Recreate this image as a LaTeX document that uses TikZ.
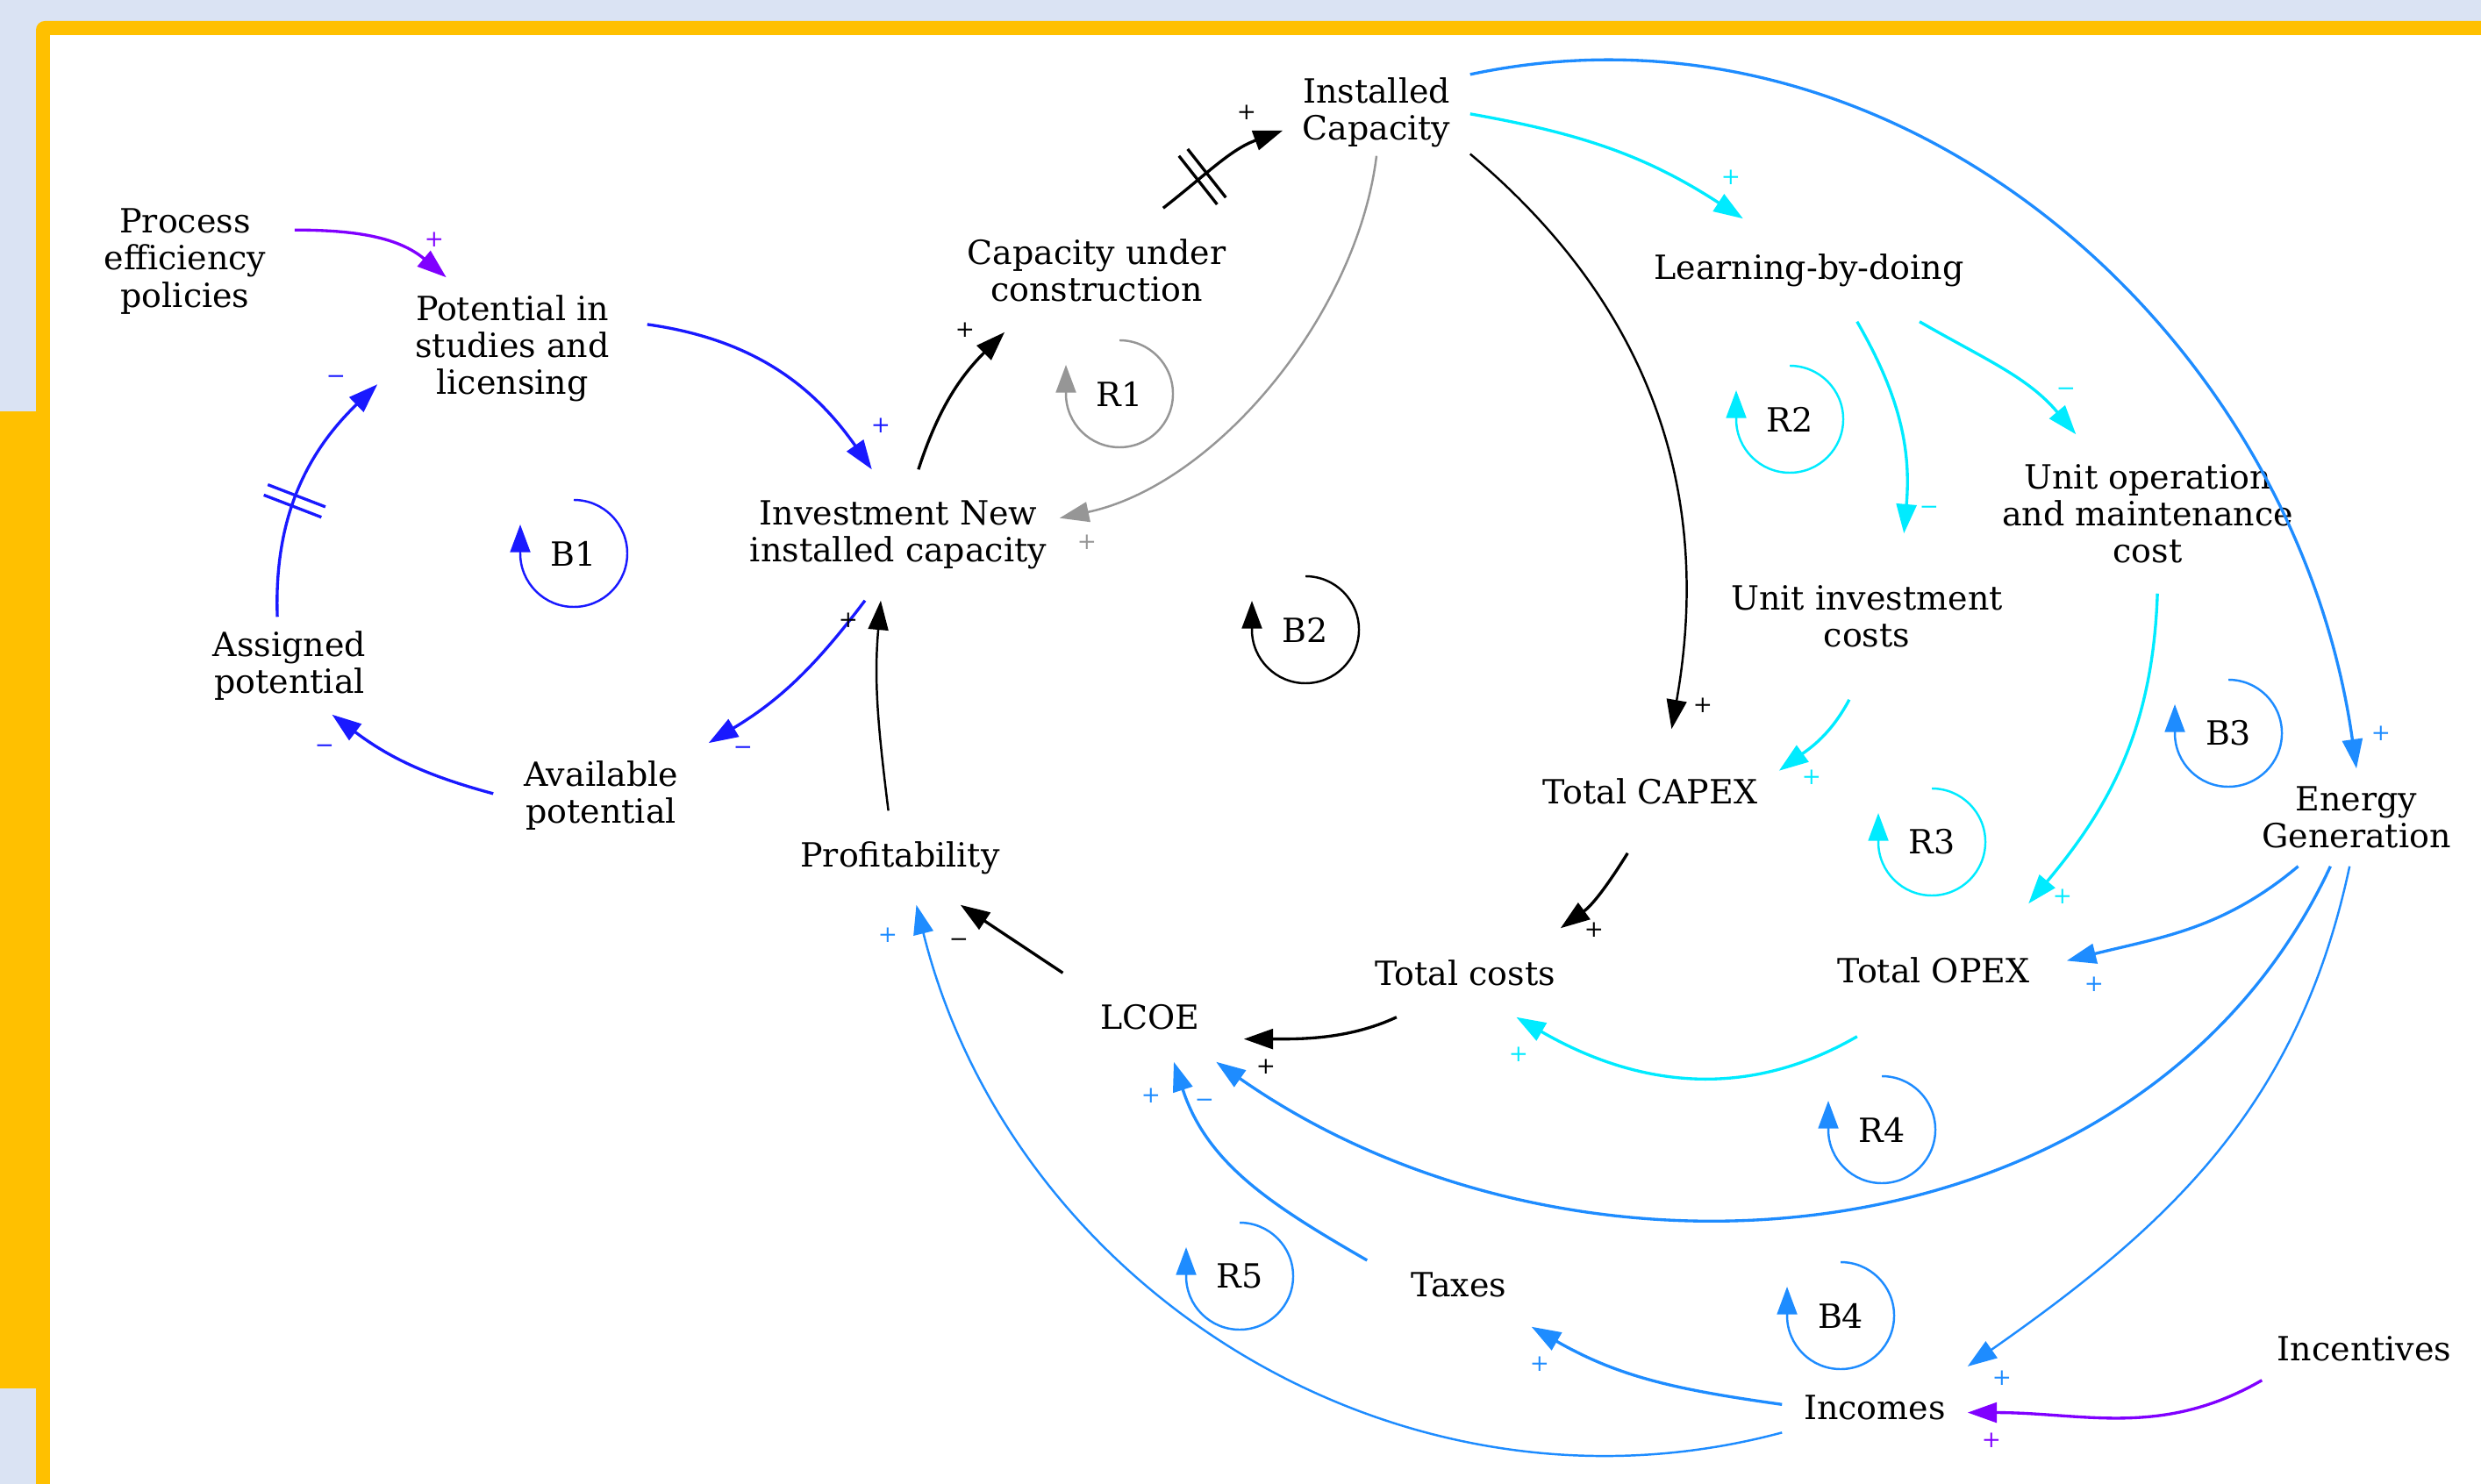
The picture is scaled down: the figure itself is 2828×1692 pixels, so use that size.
\documentclass[tikz,border=0pt]{standalone}
\usepackage{fontspec}
\newfontfamily\dvs{DejaVu Serif}
\usetikzlibrary{arrows.meta,decorations.markings}
\definecolor{cpurple}{RGB}{128,0,255}
\definecolor{cblue}{RGB}{25,25,255}
\definecolor{ccyan}{RGB}{0,235,255}
\definecolor{cdodger}{RGB}{30,140,255}
\definecolor{cgray}{RGB}{150,150,150}
\definecolor{bgblue}{RGB}{218,227,243}
\definecolor{cyellow}{RGB}{255,192,0}
\newcommand\varfont{\dvs\fontsize{10.8pt}{12pt}\selectfont}
\newcommand\sgnfont{\dvs\fontsize{7.5pt}{8pt}\selectfont}
\begin{document}
\begin{tikzpicture}[x=0.01cm,y=0.01cm,
  var/.style={align=center,font=\varfont,inner sep=0pt},
  lnk/.style={line width=0.95pt,-{Triangle[length=9.5pt,width=6.5pt]}},
  lnkthin/.style={lnk,line width=0.7pt},
  sgn/.style={font=\sgnfont,inner sep=0pt},
  loopmk/.style={line width=0.7pt,-{Triangle[length=9pt,width=6.5pt]}},
  delaymk/.style={postaction={decorate,decoration={markings,mark=at position #1 with {\draw[-,solid] (-1.8pt,-10pt)--(-1.8pt,10pt) (1.8pt,-10pt)--(1.8pt,10pt);}}}}
]
\useasboundingbox (0,0) rectangle (2828,-1692);
% frame
\fill[bgblue] (0,0) rectangle (2828,-1692);
\fill[cyellow] (0,-469) rectangle (57,-1583);
\fill[cyellow,rounded corners=0.1cm] (41,-24) rectangle (2900,-1800);
\fill[white] (57,-40) rectangle (2828,-1692);

% variables
\node[var,minimum width=2.12cm,minimum height=0.98cm] (inst) at (1569,-128) {Installed\\Capacity};
\node[var,minimum width=2.48cm,minimum height=1.6cm] (proc) at (211,-298) {Process\\efficiency\\policies};
\node[var,minimum width=3.06cm,minimum height=1.6cm] (pot) at (584,-397) {Potential in\\studies and\\licensing};
\node[var,minimum height=1.4cm] (cuc) at (1250,-308) {Capacity under\\construction};
\node[var,minimum height=1.16cm] (lbd) at (2062,-308) {Learning-by-doing};
\node[var,minimum width=3.66cm,minimum height=1.48cm] (inv) at (1024,-610) {Investment New\\installed capacity};
\node[var,minimum height=1.8cm] (uom) at (2448,-586) {Unit operation\\and maintenance\\cost};
\node[var,minimum height=1.88cm] (uic) at (2128,-703) {Unit investment\\costs};
\node[var,minimum height=1.1cm] (asg) at (330,-759) {Assigned\\potential};
\node[var,minimum width=2.44cm,minimum height=1.3cm] (avl) at (685,-907) {Available\\potential};
\node[var,minimum width=2.92cm,minimum height=1.4cm] (capex) at (1881,-902) {Total CAPEX};
\node[var,minimum height=1.1cm] (egen) at (2686,-932) {Energy\\Generation};
\node[var,minimum height=1.06cm] (prof) at (1026,-978) {Profitability};
\node[var,minimum width=2.2cm,minimum height=1.0cm] (tcost) at (1670,-1109) {Total costs};
\node[var,minimum width=3.02cm,minimum height=1.5cm] (opex) at (2204,-1106) {Total OPEX};
\node[var,minimum width=2.12cm,minimum height=1.0cm] (lcoe) at (1311,-1160) {LCOE};
\node[var,minimum width=2.08cm,minimum height=0.94cm] (taxes) at (1663,-1465) {Taxes};
\node[var,minimum width=2.32cm,minimum height=0.8cm] (incent) at (2695,-1538) {Incentives};
\node[var,minimum width=2.1cm,minimum height=1.0cm] (incomes) at (2137,-1605) {Incomes};

% connectors
\draw[lnk,cpurple] (proc.16) to[out=0,in=140] (pot.133);
\draw[lnk,cblue] (pot.10) to[out=-8,in=125] (inv.112);
\draw[lnk,cblue] (inv.243) to[out=-127,in=31] (avl.26);
\draw[lnk,cblue] (avl.179) to[out=165,in=-37] (asg.-49);
\draw[lnk,cblue,delaymk=0.45] (asg.104) to[out=92,in=-136] (pot.195);
\draw[lnk] (inv.73) to[out=72,in=-135] (cuc.214);
\draw[lnk,delaymk=0.35] (cuc.43) to[out=38,in=-160] (inst.191);
\draw[lnkthin,cgray] (inst.-90) to[out=-97,in=12,looseness=0.85] (inv.6);
\draw[lnkthin] (prof.104) to[out=97,in=-95] (inv.255);
\draw[lnkthin] (inst.-24) to[out=-40,in=80] (capex.71);
\draw[lnk] (capex.250) to[out=-122,in=36] (tcost.25);
\draw[lnk] (tcost.213) to[out=-155,in=0,looseness=0.9] (lcoe.-13);
\draw[lnk] (lcoe.153) -- (prof.-38);
\draw[lnk,ccyan] (inst.-1) to[out=-10,in=147] (lbd.142);
\draw[lnk,ccyan] (lbd.-47) to[out=-60,in=85] (uic.66);
\draw[lnk,ccyan] (lbd.-25) to[out=-30,in=130] (uom.132);
\draw[lnk,ccyan] (uic.258) to[out=-118,in=36] (capex.9);
\draw[lnk,ccyan] (uom.-83) to[out=-92,in=50] (opex.35);
\draw[lnk,ccyan] (opex.221) to[out=-150,in=-30] (tcost.-41);
\draw[lnk,cdodger] (inst.22) to[out=12,in=98] (egen.90);
\draw[lnk,cdodger] (egen.220) to[out=-140,in=14] (opex.4);
\draw[lnk,cdodger] (egen.242) to[out=-115,in=-35] (lcoe.-34);
\draw[lnkthin,cdodger] (egen.262) to[out=-102,in=35] (incomes.24);
\draw[lnk,cpurple] (incent.197) to[out=-150,in=0] (incomes.-3);
\draw[lnk,cdodger] (incomes.178) to[out=172,in=-30] (taxes.-30);
\draw[lnk,cdodger] (taxes.165) to[out=150,in=-72] (lcoe.-62);
\draw[lnkthin,cdodger] (incomes.195) to[out=-165,in=-76] (prof.-71);

% polarity signs
\node[sgn,text=cpurple] (s1) at (495,-273) {+};
\node[sgn,text=cblue] (s2) at (1004,-485) {+};
\node[sgn,text=cblue] (s3) at (847,-856) {−};
\node[sgn,text=cblue] (s4) at (370,-854) {−};
\node[sgn,text=cblue] (s5) at (383,-433) {−};
\node[sgn] (s6) at (1100,-376) {+};
\node[sgn] (s7) at (1421,-128) {+};
\node[sgn,text=cgray] (s8) at (1239,-618) {+};
\node[sgn] (s9) at (967,-707) {+};
\node[sgn] (s10) at (1941,-804) {+};
\node[sgn] (s11) at (1817,-1060) {+};
\node[sgn] (s12) at (1443,-1216) {+};
\node[sgn] (s13) at (1093,-1075) {−};
\node[sgn,text=ccyan] (s14) at (1973,-202) {+};
\node[sgn,text=ccyan] (s15) at (2199,-582) {−};
\node[sgn,text=ccyan] (s16) at (2355,-447) {−};
\node[sgn,text=ccyan] (s17) at (2065,-886) {+};
\node[sgn,text=ccyan] (s18) at (2351,-1022) {+};
\node[sgn,text=ccyan] (s19) at (1731,-1202) {+};
\node[sgn,text=cdodger] (s20) at (2714,-836) {+};
\node[sgn,text=cdodger] (s21) at (2387,-1122) {+};
\node[sgn,text=cdodger] (s22) at (1373,-1258) {−};
\node[sgn,text=cdodger] (s23) at (2282,-1571) {+};
\node[sgn,text=cpurple] (s24) at (2270,-1642) {+};
\node[sgn,text=cdodger] (s25) at (1755,-1555) {+};
\node[sgn,text=cdodger] (s26) at (1312,-1249) {+};
\node[sgn,text=cdodger] (s27) at (1012,-1066) {+};

% loop markers
\node[var] (lR1) at (1276,-449) {R1};
\draw[loopmk,cgray] (lR1.center) ++(90:61) arc[start angle=90,end angle=-180,radius=61] -- ++(0,33);
\node[var] (lB1) at (654,-631) {B1};
\draw[loopmk,cblue] (lB1.center) ++(90:61) arc[start angle=90,end angle=-180,radius=61] -- ++(0,33);
\node[var] (lB2) at (1488,-718) {B2};
\draw[loopmk,black] (lB2.center) ++(90:61) arc[start angle=90,end angle=-180,radius=61] -- ++(0,33);
\node[var] (lR2) at (2040,-478) {R2};
\draw[loopmk,ccyan] (lR2.center) ++(90:61) arc[start angle=90,end angle=-180,radius=61] -- ++(0,33);
\node[var] (lB3) at (2540,-836) {B3};
\draw[loopmk,cdodger] (lB3.center) ++(90:61) arc[start angle=90,end angle=-180,radius=61] -- ++(0,33);
\node[var] (lR3) at (2202,-960) {R3};
\draw[loopmk,ccyan] (lR3.center) ++(90:61) arc[start angle=90,end angle=-180,radius=61] -- ++(0,33);
\node[var] (lR4) at (2145,-1288) {R4};
\draw[loopmk,cdodger] (lR4.center) ++(90:61) arc[start angle=90,end angle=-180,radius=61] -- ++(0,33);
\node[var] (lR5) at (1413,-1455) {R5};
\draw[loopmk,cdodger] (lR5.center) ++(90:61) arc[start angle=90,end angle=-180,radius=61] -- ++(0,33);
\node[var] (lB4) at (2098,-1500) {B4};
\draw[loopmk,cdodger] (lB4.center) ++(90:61) arc[start angle=90,end angle=-180,radius=61] -- ++(0,33);
\end{tikzpicture}
\end{document}
